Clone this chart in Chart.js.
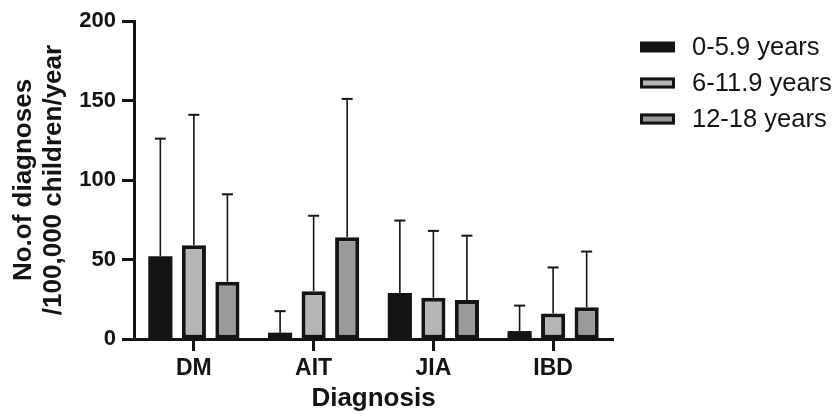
<!DOCTYPE html>
<html>
<head>
<meta charset="utf-8">
<title>Diagnoses by age group</title>
<script src="https://cdn.jsdelivr.net/npm/chart.js@4/dist/chart.umd.min.js"></script>
<style>
	html, body { margin: 0; padding: 0; background: #fff; }
	#wrap { position: relative; width: 839px; height: 419px; }
</style>
</head>
<body>
<div id="wrap"><canvas id="diag-chart"></canvas></div>
<script>
/* global Chart */

// ----------------------------------------------------------------
// Data
// ----------------------------------------------------------------
var CATEGORIES = [ 'DM', 'AIT', 'JIA', 'IBD' ];
var SERIES     = [ '0-5.9 years', '6-11.9 years', '12-18 years' ];

// mean incidence per 100,000 children/year
var AGE_0_5   = [ 52, 4, 29, 5 ];
var AGE_6_11  = [ 59, 30, 26, 16 ];
var AGE_12_18 = [ 36, 64, 24.5, 20 ];

// top of the error whisker (mean + SD)
var ERR_0_5   = [ 126, 17.5, 74.5, 21 ];
var ERR_6_11  = [ 141, 77.5, 68, 45 ];
var ERR_12_18 = [ 91, 151, 65, 55 ];

var Y_TICKS = [ 0, 50, 100, 150, 200 ];

( function () {
	'use strict';

	var INK    = '#141414';
	var FILLS  = [ '#141414', '#b5b5b5', '#9a9a9a' ];
	var EDGES  = [ 0, 4, 4 ];   // the black series needs no separate outline
	var FAMILY = '"Liberation Sans", Arial, Helvetica, sans-serif';

	var seriesValues = [ AGE_0_5, AGE_6_11, AGE_12_18 ];
	var seriesErrors = [ ERR_0_5, ERR_6_11, ERR_12_18 ];

	// ----------------------------------------------------------------
	// Plugins: SD whiskers and a fixed legend block on the right
	// ----------------------------------------------------------------

	var errorBars = {
		id: 'errorBars',
		afterDatasetsDraw: function ( chart ) {
			var ctx = chart.ctx;
			var y   = chart.scales.y;
			ctx.save();
			ctx.strokeStyle = INK;
			chart.data.datasets.forEach( function ( ds, i ) {
				var meta = chart.getDatasetMeta( i );
				meta.data.forEach( function ( bar, j ) {
					var top = y.getPixelForValue( ds.errTop[ j ] );
					ctx.lineWidth = 1.6;
					ctx.beginPath();
					ctx.moveTo( bar.x, bar.y );
					ctx.lineTo( bar.x, top );
					ctx.stroke();
					ctx.lineWidth = 2;
					ctx.beginPath();
					ctx.moveTo( bar.x - 5.5, top );
					ctx.lineTo( bar.x + 5.5, top );
					ctx.stroke();
				} );
			} );
			ctx.restore();
		}
	};

	var sideLegend = {
		id: 'sideLegend',
		afterDraw: function ( chart ) {
			var ctx  = chart.ctx;
			var left = chart.chartArea.right + 27;
			ctx.save();
			ctx.font = '25.5px ' + FAMILY;
			ctx.textBaseline = 'middle';
			chart.data.datasets.forEach( function ( ds, i ) {
				var cy = 47 + i * 36;
				ctx.fillStyle = ds.backgroundColor;
				ctx.fillRect( left, cy - 5.5, 35, 11 );
				if ( ds.borderWidth ) {
					ctx.lineWidth = 3;
					ctx.strokeStyle = INK;
					ctx.strokeRect( left + 1.5, cy - 4, 32, 8 );
				}
				ctx.fillStyle = INK;
				ctx.fillText( ds.label, left + 52, cy + 1 );
			} );
			ctx.restore();
		}
	};

	// ----------------------------------------------------------------
	// Chart
	// ----------------------------------------------------------------

	var datasets = SERIES.map( function ( name, i ) {
		return {
			label              : name,
			data               : seriesValues[ i ],
			errTop             : seriesErrors[ i ],
			backgroundColor    : FILLS[ i ],
			borderColor        : INK,
			borderWidth        : EDGES[ i ],
			borderSkipped      : false,
			categoryPercentage : 0.84,
			barPercentage      : 0.72,
		};
	} );

	new Chart( document.getElementById( 'diag-chart' ), {
		type: 'bar',
		data: { labels: CATEGORIES, datasets: datasets },
		plugins: [ errorBars, sideLegend ],
		options: {
			responsive          : true,
			maintainAspectRatio : false,
			animation           : false,
			layout: { padding: { top: 21, right: 226, bottom: 0, left: 0 } },
			plugins: {
				legend  : { display: false },
				tooltip : { enabled: false },
			},
			scales: {
				x: {
					border : { display: true, color: INK, width: 3 },
					grid   : {
						display         : true,
						drawOnChartArea : false,
						drawTicks       : true,
						offset          : false,
						tickLength      : 12,
						tickWidth       : 3,
						tickColor       : INK,
					},
					ticks  : {
						color   : INK,
						padding : 4,
						font    : { family: FAMILY, size: 23, weight: 'bold' },
					},
					title  : {
						display : true,
						text    : 'Diagnosis',
						color   : INK,
						padding : { top: 0, bottom: 5 },
						font    : { family: FAMILY, size: 26, weight: 'bold' },
					},
					afterFit: function ( scale ) { scale.height = 80; },
				},
				y: {
					min    : 0,
					max    : 200,
					border : { display: true, color: INK, width: 3 },
					grid   : {
						display         : true,
						drawOnChartArea : false,
						drawTicks       : true,
						tickLength      : 12,
						tickWidth       : 3,
						tickColor       : INK,
					},
					afterBuildTicks: function ( scale ) {
						scale.ticks = Y_TICKS.map( function ( v ) { return { value: v }; } );
					},
					ticks  : {
						color   : INK,
						padding : 6,
						font    : { family: FAMILY, size: 22, weight: 'bold' },
					},
					title  : {
						display : true,
						text    : [ 'No.of diagnoses', '/100,000 children/year' ],
						color   : INK,
						padding : { top: 9, bottom: 0 },
						font    : { family: FAMILY, size: 26, weight: 'bold', lineHeight: 1.15 },
					},
					afterFit: function ( scale ) { scale.width = 134; },
				},
			},
		},
	} );
}() );
</script>
</body>
</html>
